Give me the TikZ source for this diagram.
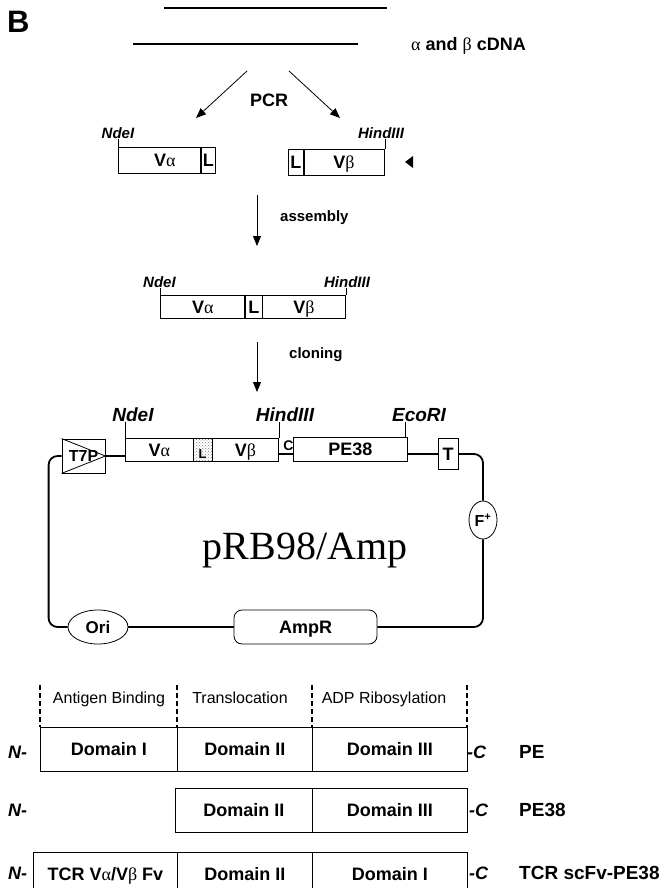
\documentclass[tikz,border=0pt]{standalone}
\usepackage{fontspec}
\setmainfont{Liberation Sans}
\newfontfamily\tmsfont{Liberation Serif}
\usepackage{tikz}
\usetikzlibrary{positioning, shapes.geometric, arrows.meta, patterns}
\newcommand{\gra}{{\tmsfont\mdseries α}}
\newcommand{\grb}{{\tmsfont\mdseries β}}

\begin{document}
\begin{tikzpicture}[x=1pt, y=-1pt,
    txt/.style={inner sep=0pt, text height=13pt, text depth=0pt, font=\bfseries\fontsize{18}{18}\selectfont},
    steptxt/.style={inner sep=0pt, anchor=west, text height=11pt, text depth=0pt, font=\bfseries\fontsize{15}{15}\selectfont},
    site/.style={inner sep=0pt, text height=11pt, text depth=0pt, font=\bfseries\itshape\fontsize{15}{15}\selectfont},
    bigsite/.style={inner sep=0pt, text height=13.5pt, text depth=0pt, font=\bfseries\itshape\fontsize{19}{19}\selectfont},
    seg/.style={draw, line width=0.8pt, inner sep=0pt, anchor=west, minimum height=26pt, text height=13pt, text depth=0pt, font=\bfseries\fontsize{18}{18}\selectfont},
    dom/.style={draw, line width=0.8pt, inner sep=0pt, anchor=west, minimum height=44pt, text height=13pt, text depth=0pt, font=\bfseries\fontsize{18}{18}\selectfont},
    flow/.style={line width=0.8pt, -{Triangle[length=10pt, width=8pt]}},
    ring/.style={line width=1.8pt, rounded corners=9pt},
    region/.style={inner sep=0pt, text height=11.5pt, text depth=0pt, font=\fontsize{16}{16}\selectfont},
    term/.style={inner sep=0pt, anchor=west, text height=13pt, text depth=0pt, font=\bfseries\itshape\fontsize{18}{18}\selectfont},
    prot/.style={inner sep=0pt, anchor=west, text height=13.5pt, text depth=0pt, font=\bfseries\fontsize{19}{19}\selectfont},
  ]

  \useasboundingbox (0,0) rectangle (661,888);
  \clip (0,0) rectangle (661,888);

  % cDNA strands
  \node[inner sep=0pt, anchor=west, font=\bfseries\fontsize{31}{31}\selectfont] (panel) at (7,22) {B};
  \draw[line width=1.8pt] (164,8) -- (387,8);
  \draw[line width=1.8pt] (133,44) -- (358,44);
  \node[txt, anchor=west] (cdna) at (411,44) {\gra{} and \grb{} cDNA};

  % PCR
  \coordinate (pcrL) at (247,71);
  \coordinate (pcrLend) at (196,118);
  \coordinate (pcrR) at (289,71);
  \coordinate (pcrRend) at (340,118);
  \draw[flow] (pcrL) -- (pcrLend);
  \draw[flow] (pcrR) -- (pcrRend);
  \node[txt] (pcr) at (269,100) {PCR};

  % V alpha fragment
  \node[seg, minimum width=83pt] (vaPcr) at (118,160) {\hspace{10pt}V\gra};
  \node[seg, minimum width=14pt] (lPcrA) at (201,160) {L};
  \draw[line width=2pt] (lPcrA.north west) -- (lPcrA.south west);
  \node[site] (ndePcr) at (118,133) {NdeI};
  \draw (vaPcr.north west) -- (vaPcr.north west |- ndePcr.south);

  % V beta fragment
  \node[seg, minimum width=15pt] (lPcrB) at (288,162) {L};
  \node[seg, minimum width=81pt] (vbPcr) at (303,162) {V\grb};
  \draw[line width=2pt] (lPcrB.north east) -- (lPcrB.south east);
  \node[site] (hindPcr) at (381,133) {HindIII};
  \draw (vbPcr.north east) -- (vbPcr.north east |- hindPcr.south);
  \fill (405,162) -- (413,156) -- (413,168) -- cycle;

  % assembly
  \coordinate (asmA) at (257,195);
  \coordinate (asmB) at (257,246);
  \draw[flow] (asmA) -- (asmB);
  \node[steptxt] (asm) at (280,216) {assembly};

  \node[seg, minimum width=85pt, minimum height=23pt] (vaAsm) at (160,306.5) {V\gra};
  \node[seg, minimum width=17pt, minimum height=23pt] (lAsm) at (245,306.5) {L};
  \node[seg, minimum width=83pt, minimum height=23pt] (vbAsm) at (262,306.5) {V\grb};
  \draw[line width=2pt] (lAsm.north west) -- (lAsm.south west);
  \node[site] (ndeAsm) at (159.5,282) {NdeI};
  \node[site] (hindAsm) at (347,282) {HindIII};
  \draw (vaAsm.north west) -- (vaAsm.north west |- ndeAsm.south);
  \draw (vbAsm.north east) -- (vbAsm.north east |- hindAsm.south);

  % cloning
  \coordinate (clnA) at (257,342);
  \coordinate (clnB) at (257,392);
  \draw[flow] (clnA) -- (clnB);
  \node[steptxt] (cln) at (289,353) {cloning};

  % vector insert
  \node[seg, minimum width=68pt, minimum height=23pt] (vaVec) at (125,449.5) {V\gra};
  \node[seg, minimum width=19pt, minimum height=23pt, pattern=crosshatch dots, pattern color=gray] (lVec) at (193,449.5) {};
  \node[inner sep=0pt, font=\bfseries\fontsize{13}{13}\selectfont] (lVecTxt) at (202.5,454) {L};
  \node[seg, minimum width=66pt, minimum height=23pt] (vbVec) at (212,449.5) {V\grb};
  \node[seg, minimum width=114pt, minimum height=24pt] (pe38) at (293,449) {PE38};
  \node[txt, draw, line width=0.8pt, minimum width=20pt, minimum height=31pt] (tEnd) at (448,454) {T};
  \node[draw, line width=0.8pt, minimum width=43pt, minimum height=34pt, inner sep=0pt, text height=11.5pt, text depth=0pt, font=\bfseries\fontsize{16}{16}\selectfont] (t7p) at (83.5,456) {T7P};
  \draw[line width=0.8pt] (t7p.north west) -- (t7p.east) -- (t7p.south west);
  \node[inner sep=0pt, font=\bfseries\fontsize{14}{14}\selectfont] (cSite) at (288.5,446) {C};

  \node[bigsite] (ndeVec) at (133,415) {NdeI};
  \node[bigsite] (hindVec) at (285,415) {HindIII};
  \node[bigsite] (ecoVec) at (419,415) {EcoRI};
  \draw (vaVec.north west) -- (vaVec.north west |- ndeVec.south);
  \draw (vbVec.north east) -- (vbVec.north east |- hindVec.south);
  \draw ([xshift=-3pt]pe38.north east) -- ([xshift=-3pt]pe38.north east |- ecoVec.south);

  % backbone
  \node[ellipse, draw, line width=0.8pt, fill=white, minimum width=28pt, minimum height=38pt, inner sep=0pt, font=\bfseries\fontsize{16}{16}\selectfont] (fplus) at (483,520) {F\textsuperscript{+}};
  \node[ellipse, draw, line width=0.8pt, minimum width=60pt, minimum height=34pt, inner sep=0pt, text height=12pt, text depth=0pt, font=\bfseries\fontsize{17}{17}\selectfont] (ori) at (98,627) {Ori};
  \node[draw, line width=0.8pt, rounded corners=8pt, minimum width=143pt, minimum height=34pt, inner sep=0pt, text height=13pt, text depth=0pt, font=\bfseries\fontsize{18}{18}\selectfont] (ampr) at (305.5,627) {AmpR};
  \node[inner sep=0pt, font=\tmsfont\fontsize{40}{40}\selectfont] (pname) at (305,550) {pRB98/Amp};

  \draw[ring] (t7p.west) -- ++(-13,0) |- (ori.west);
  \draw[ring] (ori.east) -- (ampr.west);
  \draw[ring] (ampr.east) -| (fplus.south);
  \draw[ring] (fplus.north) |- (tEnd.east);
  \draw[ring] (tEnd.west) -- (tEnd.west -| pe38.east);
  \draw[ring] (pe38.west |- tEnd.west) -- (vbVec.east |- tEnd.west);
  \draw[ring] (t7p.east) -- (vaVec.west |- t7p.east);

  % Domain map
  \foreach \x in {40,177,312,467} {
    \draw[line width=2pt, dash pattern=on 5pt off 3pt] (\x,685) -- (\x,727);
  }
  \node[region] (antigen) at (109,698) {Antigen Binding};
  \node[region] (transl) at (240,698) {Translocation};
  \node[region] (adp) at (384,698) {ADP Ribosylation};

  \node[dom, minimum width=137pt] (peI) at (40,749) {Domain I};
  \node[dom, minimum width=135pt] (peII) at (177,749) {Domain II};
  \node[dom, minimum width=155pt] (peIII) at (312,749) {Domain III};
  \node[term] (nPE) at (8,752) {N-};
  \node[term] (cPE) at (467,752) {-C};
  \node[prot] (pePE) at (519,752) {PE};

  \node[dom, minimum width=137pt] (p38II) at (175,810) {Domain II};
  \node[dom, minimum width=155pt] (p38III) at (312,810) {Domain III};
  \node[term] (nP38) at (8,810) {N-};
  \node[term] (cP38) at (469,810) {-C};
  \node[prot] (pP38) at (519,810) {PE38};

  \node[dom, minimum width=144pt] (scFv) at (33,874) {TCR V\gra/V\grb{} Fv};
  \node[dom, minimum width=135pt] (scII) at (177,874) {Domain II};
  \node[dom, minimum width=155pt] (scI) at (312,874) {Domain I};
  \node[term] (nSc) at (8,873) {N-};
  \node[term] (cSc) at (469,873) {-C};
  \node[prot] (pSc) at (519,873) {TCR scFv-PE38};
\end{tikzpicture}
\end{document}
